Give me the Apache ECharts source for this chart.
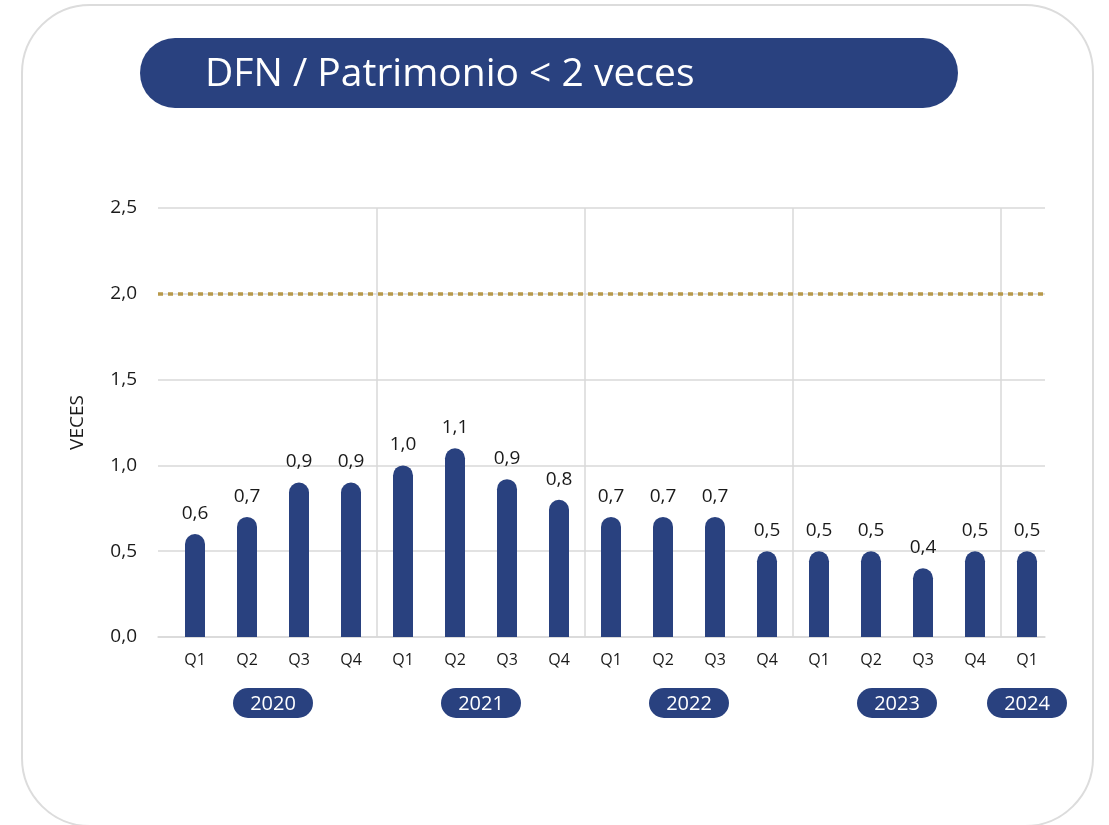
<!DOCTYPE html>
<html>
<head>
<meta charset="utf-8">
<script src="https://cdn.jsdelivr.net/npm/echarts@6/dist/echarts.min.js"></script>
<style>
html, body { margin: 0; padding: 0; background: #fff; }
#chart { width: 1109px; height: 825px; }
</style>
</head>
<body>
<div id="chart"></div>
<script>
// datos del grafico
var quarters = ['Q1', 'Q2', 'Q3', 'Q4', 'Q1', 'Q2', 'Q3', 'Q4', 'Q1', 'Q2', 'Q3', 'Q4', 'Q1', 'Q2', 'Q3', 'Q4', 'Q1'];
var ratio = [0.6, 0.7, 0.9, 0.9, 1.0, 1.1, 0.92, 0.8, 0.7, 0.7, 0.7, 0.5, 0.5, 0.5, 0.4, 0.5, 0.5];
var years = ['2020', '2021', '2022', '2023', '2024'];
var yearFirst = [0, 4, 8, 12, 16];
var yearLast = [3, 7, 11, 15, 16];
var limite = 2.0;
var yMin = 0, yMax = 2.5, yStep = 0.5;

var azul = '#29417f';
var gris = '#d9d9d9';
var texto = '#1a1a1a';
var fuente = '"Open Sans", "Noto Sans", sans-serif';

function coma(v) {
    return v.toFixed(1).replace('.', ',');
}

var chart = echarts.init(document.getElementById('chart'));

var option = {
    animation: false,
    backgroundColor: '#fff',
    textStyle: { fontFamily: fuente },
    grid: [
        { left: 158, right: 64, top: 208, bottom: 188 },
        { left: 169, right: 56, top: 208, bottom: 188 }
    ],
    xAxis: [{
        gridIndex: 0,
        type: 'value',
        min: 0,
        max: 1,
        axisLine: { show: true, lineStyle: { color: gris, width: 1.5 } },
        axisTick: { show: false },
        axisLabel: { show: false },
        splitLine: { show: false }
    }, {
        gridIndex: 1,
        type: 'category',
        data: quarters,
        axisLine: { show: false },
        axisTick: { show: false },
        axisLabel: { color: texto, fontSize: 16, margin: 15, fontFamily: fuente },
        splitLine: {
            show: true,
            interval: function(i) { return i > 0 && i % 4 === 0; },
            // la ultima linea (borde derecho) queda transparente
            lineStyle: { color: [gris, gris, gris, gris, 'rgba(0,0,0,0)'], width: 1.5 }
        }
    }],
    yAxis: [{
        gridIndex: 0,
        type: 'value',
        min: yMin,
        max: yMax,
        interval: yStep,
        name: 'VECES',
        nameLocation: 'middle',
        nameGap: 71,
        nameTextStyle: { color: texto, fontSize: 19, fontFamily: fuente },
        axisLine: { show: false },
        axisTick: { show: false },
        axisLabel: { color: texto, fontSize: 19, margin: 21, fontFamily: fuente, formatter: coma },
        splitLine: { lineStyle: { color: gris, width: 1.5 } }
    }, {
        gridIndex: 1,
        type: 'value',
        min: yMin,
        max: yMax,
        interval: yStep,
        show: false,
        splitLine: { show: false }
    }],
    series: [{
        type: 'line',
        xAxisIndex: 0,
        yAxisIndex: 0,
        data: [],
        silent: true,
        markLine: {
            silent: true,
            symbol: 'none',
            label: { show: false },
            lineStyle: { color: '#b8994a', type: [5, 5], width: 3.5 },
            data: [{ yAxis: limite }]
        }
    }, {
        type: 'bar',
        xAxisIndex: 1,
        yAxisIndex: 1,
        data: ratio,
        barWidth: 20,
        itemStyle: { color: azul, borderRadius: [10, 10, 0, 0] },
        label: {
            show: true,
            position: 'top',
            distance: 11,
            color: texto,
            fontSize: 19,
            fontFamily: fuente,
            formatter: function(p) { return coma(p.value); }
        }
    }]
};

chart.setOption(option);

// marco, titulo y etiquetas de año
var graficos = [{
    type: 'rect',
    shape: { x: 22, y: 5, width: 1071, height: 821, r: 68 },
    style: { fill: 'none', stroke: '#dcdcdc', lineWidth: 2 },
    z: 0
}, {
    type: 'rect',
    shape: { x: 140, y: 38, width: 818, height: 70, r: 35 },
    style: { fill: azul },
    z: 10
}, {
    type: 'text',
    x: 205,
    y: 75,
    style: { text: 'DFN / Patrimonio < 2 veces', fill: '#fff', font: '39px ' + fuente, verticalAlign: 'middle' },
    z: 11
}];

for (var i = 0; i < years.length; i++) {
    var a = chart.convertToPixel({ xAxisIndex: 1 }, yearFirst[i]);
    var b = chart.convertToPixel({ xAxisIndex: 1 }, yearLast[i]);
    var cx = (a + b) / 2;
    graficos.push({
        type: 'rect',
        shape: { x: cx - 40, y: 688, width: 80, height: 30, r: 15 },
        style: { fill: azul },
        z: 10
    });
    graficos.push({
        type: 'text',
        x: cx,
        y: 704,
        style: { text: years[i], fill: '#fff', font: '20px ' + fuente, align: 'center', verticalAlign: 'middle' },
        z: 11
    });
}

chart.setOption({ graphic: graficos });
</script>
</body>
</html>
